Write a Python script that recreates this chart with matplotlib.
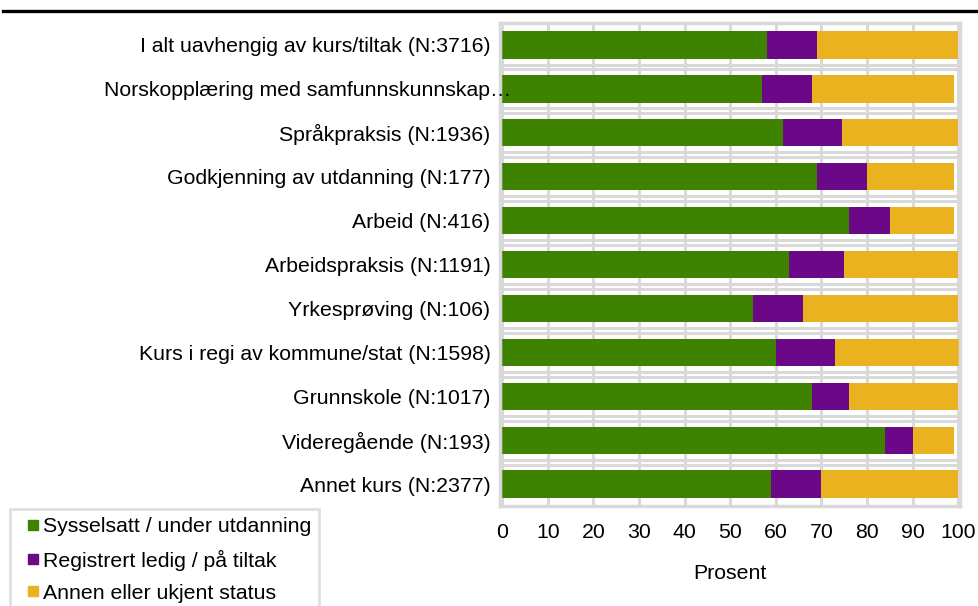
import numpy as np
import matplotlib
matplotlib.use("Agg")
import matplotlib.pyplot as plt
from matplotlib.lines import Line2D
from matplotlib.transforms import ScaledTranslation

plt.rcParams['font.family'] = ['Liberation Sans', 'DejaVu Sans']

# data (percent)
categories = [
    "I alt uavhengig av kurs/tiltak (N:3716)",
    "Norskopplæring med samfunnskunnskap…",
    "Språkpraksis (N:1936)",
    "Godkjenning av utdanning (N:177)",
    "Arbeid (N:416)",
    "Arbeidspraksis (N:1191)",
    "Yrkesprøving (N:106)",
    "Kurs i regi av kommune/stat (N:1598)",
    "Grunnskole (N:1017)",
    "Videregående (N:193)",
    "Annet kurs (N:2377)",
]
sysselsatt = [58, 57, 61.5, 69, 76, 63, 55, 60, 68, 84, 59]
ledig = [11, 11, 13, 11, 9, 12, 11, 13, 8, 6, 11]
annen = [31, 31, 25.5, 19, 14, 25, 34, 28, 24, 9, 30]
series_names = ["Sysselsatt / under utdanning", "Registrert ledig / på tiltak", "Annen eller ukjent status"]
colors = ["#3f8200", "#6a0888", "#ebb220"]
xticks = list(range(0, 101, 10))

fs = 15.3
fig = plt.figure(figsize=(9.79, 6.06), dpi=100)
ax = fig.add_axes([0.511, 0.165, 0.4696, 0.797])

y = np.arange(len(categories))
grid_c = "#d9d9d9"

# grid: vertical lines at ticks, double lines between rows
for t in xticks:
    ax.axvline(t, color=grid_c, lw=2.2, zorder=0)
for b in np.arange(len(categories) - 1) + 0.5:
    ax.axhline(b - 0.055, color=grid_c, lw=2.2, zorder=0)
    ax.axhline(b + 0.055, color=grid_c, lw=2.2, zorder=0)

left = np.zeros(len(categories))
for vals, name, c in zip([sysselsatt, ledig, annen], series_names, colors):
    ax.barh(y, vals, left=left, height=0.62, color=c, label=name, zorder=2)
    left += np.array(vals)

ax.set_xlim(-0.4, 100.4)
ax.set_ylim(len(categories) - 0.5, -0.5)
ax.set_xticks(xticks)
ax.set_xticklabels([str(t) for t in xticks], fontsize=fs)
ax.set_yticks(y)
ax.set_yticklabels(categories, fontsize=fs)
ax.tick_params(axis='x', length=0, pad=12)
ax.tick_params(axis='y', length=0, pad=7)
ax.set_xlabel("Prosent", fontsize=fs, labelpad=16)
for s in ax.spines.values():
    s.set_color(grid_c)
    s.set_linewidth(2.5)
ax.yaxis.set_zorder(5)

# truncated label spills into the plot area
lab = ax.get_yticklabels()[1]
lab.set_transform(lab.get_transform() + ScaledTranslation(0.21, 0, fig.dpi_scale_trans))

# title rule (title text itself is cut off in the source)
fig.add_artist(Line2D([3 / 979, 1.0], [0.982, 0.982], color="black", lw=2.4))

handles = [Line2D([], [], ls="none", marker="s", markersize=7.5, color=c) for c in colors]
leg = fig.legend(handles, series_names, loc="upper left", bbox_to_anchor=(10 / 979, 1 - 509 / 606),
                 fontsize=fs, handlelength=1.33, handletextpad=-0.2,
                 labelspacing=0.62, borderpad=0.4, borderaxespad=0, fancybox=False)
leg.get_frame().set_edgecolor(grid_c)
leg.get_frame().set_linewidth(2)

fig.savefig("out.png", dpi=100)
